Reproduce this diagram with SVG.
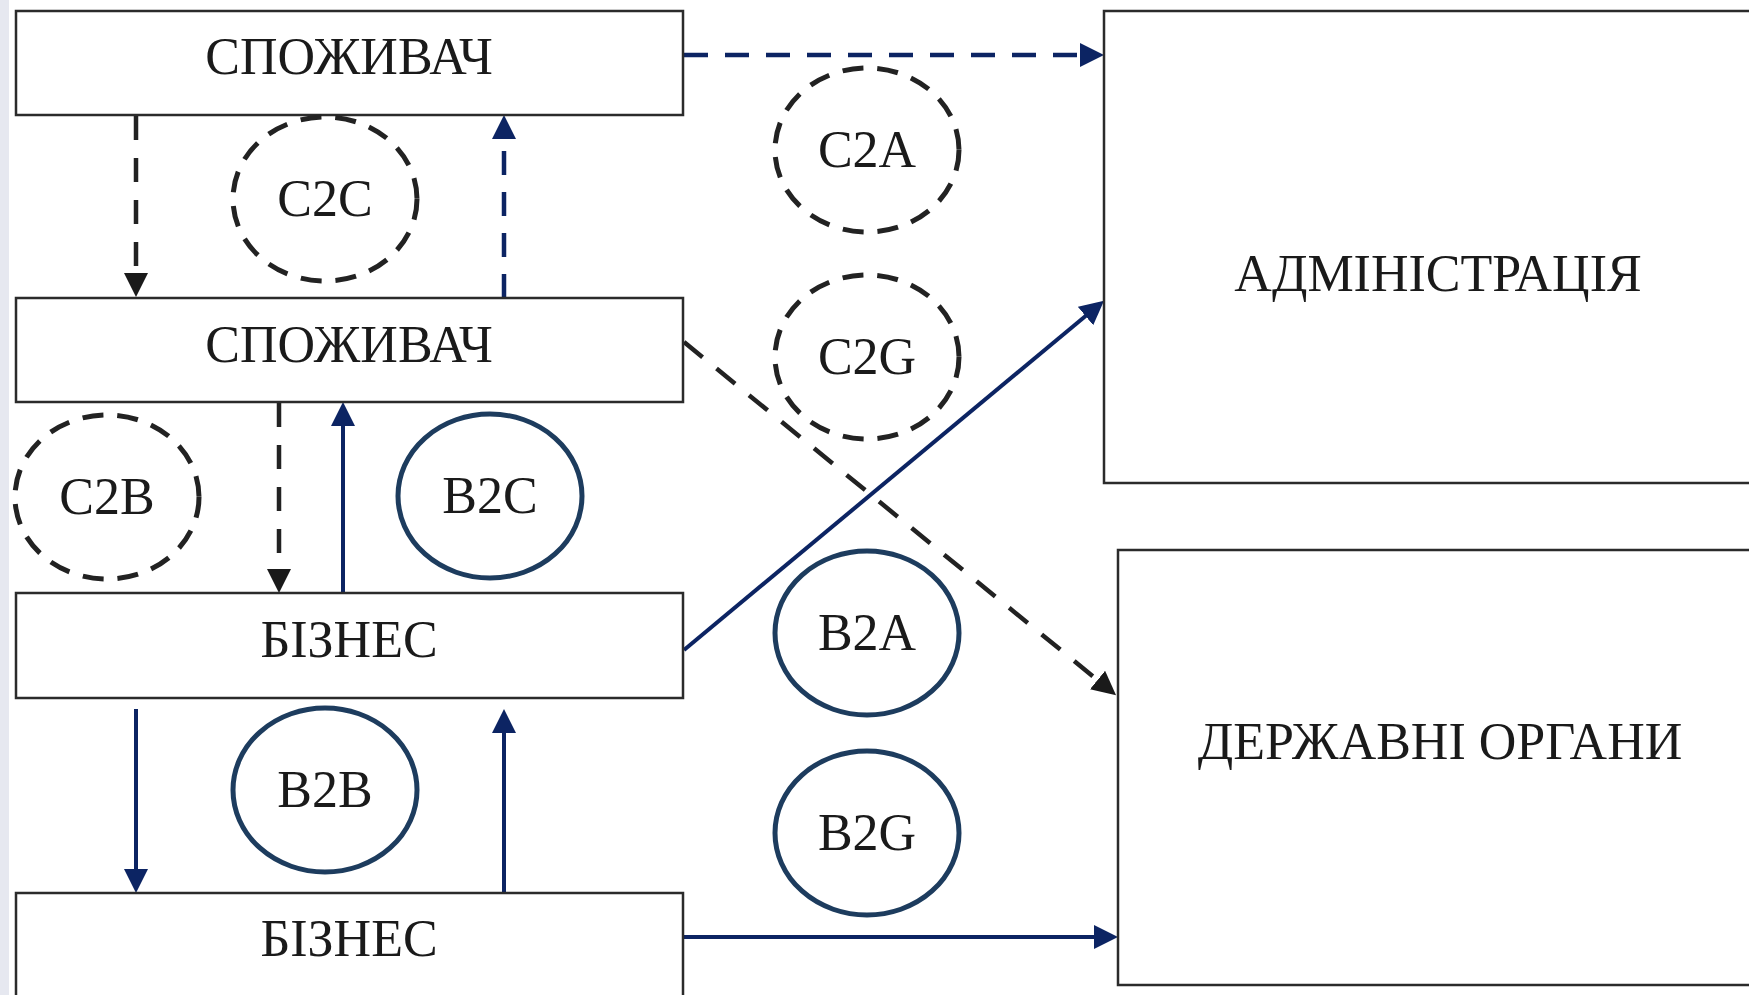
<svg xmlns="http://www.w3.org/2000/svg" width="1749" height="995" viewBox="0 0 1749 995">
  <style>
    .box { fill: #ffffff; stroke: #2b2b2b; stroke-width: 2.5; }
    .lbl { font-family: "Liberation Serif", "Times New Roman", serif; font-size: 52px; fill: #1a1a1a; text-anchor: middle; }
    .dcirc { fill: none; stroke: #222222; stroke-width: 5; stroke-dasharray: 21 14; }
    .scirc { fill: none; stroke: #1d3c5e; stroke-width: 5; }
    .navy { stroke: #0c2463; stroke-width: 4; fill: none; }
    .navyd { stroke: #0c2463; stroke-width: 4.5; fill: none; stroke-dasharray: 24 17; }
    .blackd { stroke: #222222; stroke-width: 4.5; fill: none; stroke-dasharray: 24 18; }
  </style>
  <defs>
    <marker id="aNavy" markerUnits="userSpaceOnUse" markerWidth="24" markerHeight="24" refX="11" refY="12" orient="auto">
      <path d="M0,0 L24,12 L0,24 z" fill="#0c2463"/>
    </marker>
    <marker id="aBlack" markerUnits="userSpaceOnUse" markerWidth="24" markerHeight="24" refX="11" refY="12" orient="auto">
      <path d="M0,0 L24,12 L0,24 z" fill="#1a1a1a"/>
    </marker>
  </defs>
  <rect x="0" y="0" width="1749" height="995" fill="#ffffff"/>
  <rect x="0" y="0" width="9" height="995" fill="#e6e8f0"/>

  <g id="connectors">
    <line class="navyd" x1="684" y1="55" x2="1091" y2="55" marker-end="url(#aNavy)"/>
    <line class="blackd" x1="136" y1="116" x2="136" y2="284" marker-end="url(#aBlack)"/>
    <line class="navyd" x1="504" y1="298" x2="504" y2="128" marker-end="url(#aNavy)"/>
    <line class="blackd" x1="279" y1="403" x2="279" y2="580" marker-end="url(#aBlack)"/>
    <line class="navy" x1="343" y1="593" x2="343" y2="415" marker-end="url(#aNavy)"/>
    <line class="blackd" x1="684" y1="342" x2="1106" y2="687" marker-end="url(#aBlack)"/>
    <line class="navy" x1="684" y1="650" x2="1094" y2="309" marker-end="url(#aNavy)"/>
    <line class="navy" x1="136" y1="709" x2="136" y2="880" marker-end="url(#aNavy)"/>
    <line class="navy" x1="504" y1="893" x2="504" y2="722" marker-end="url(#aNavy)"/>
    <line class="navy" x1="684" y1="937" x2="1105" y2="937" marker-end="url(#aNavy)"/>
  </g>

  <g id="consumer1">
    <rect class="box" x="16" y="11" width="667" height="104"/>
    <text class="lbl" x="349" y="74">СПОЖИВАЧ</text>
  </g>
  <g id="consumer2">
    <rect class="box" x="16" y="298" width="667" height="104"/>
    <text class="lbl" x="349" y="362">СПОЖИВАЧ</text>
  </g>
  <g id="business1">
    <rect class="box" x="16" y="593" width="667" height="105"/>
    <text class="lbl" x="349" y="657">БІЗНЕС</text>
  </g>
  <g id="business2">
    <rect class="box" x="16" y="893" width="667" height="110"/>
    <text class="lbl" x="349" y="956">БІЗНЕС</text>
  </g>
  <g id="administration">
    <rect class="box" x="1104" y="11" width="660" height="472"/>
    <text class="lbl" x="1438" y="291">АДМІНІСТРАЦІЯ</text>
  </g>
  <g id="government">
    <rect class="box" x="1118" y="550" width="646" height="435"/>
    <text class="lbl" x="1440" y="759">ДЕРЖАВНІ ОРГАНИ</text>
  </g>

  <g id="c2c">
    <ellipse class="dcirc" cx="325" cy="199" rx="92" ry="82"/>
    <text class="lbl" x="325" y="216">C2C</text>
  </g>
  <g id="c2a">
    <ellipse class="dcirc" cx="867" cy="150" rx="92" ry="82"/>
    <text class="lbl" x="867" y="167">C2A</text>
  </g>
  <g id="c2g">
    <ellipse class="dcirc" cx="867" cy="357" rx="92" ry="82"/>
    <text class="lbl" x="867" y="374">C2G</text>
  </g>
  <g id="c2b">
    <ellipse class="dcirc" cx="107" cy="497" rx="92" ry="82"/>
    <text class="lbl" x="107" y="514">C2B</text>
  </g>
  <g id="b2c">
    <ellipse class="scirc" cx="490" cy="496" rx="92" ry="82"/>
    <text class="lbl" x="490" y="513">B2C</text>
  </g>
  <g id="b2a">
    <ellipse class="scirc" cx="867" cy="633" rx="92" ry="82"/>
    <text class="lbl" x="867" y="650">B2A</text>
  </g>
  <g id="b2b">
    <ellipse class="scirc" cx="325" cy="790" rx="92" ry="82"/>
    <text class="lbl" x="325" y="807">B2B</text>
  </g>
  <g id="b2g">
    <ellipse class="scirc" cx="867" cy="833" rx="92" ry="82"/>
    <text class="lbl" x="867" y="850">B2G</text>
  </g>
</svg>
